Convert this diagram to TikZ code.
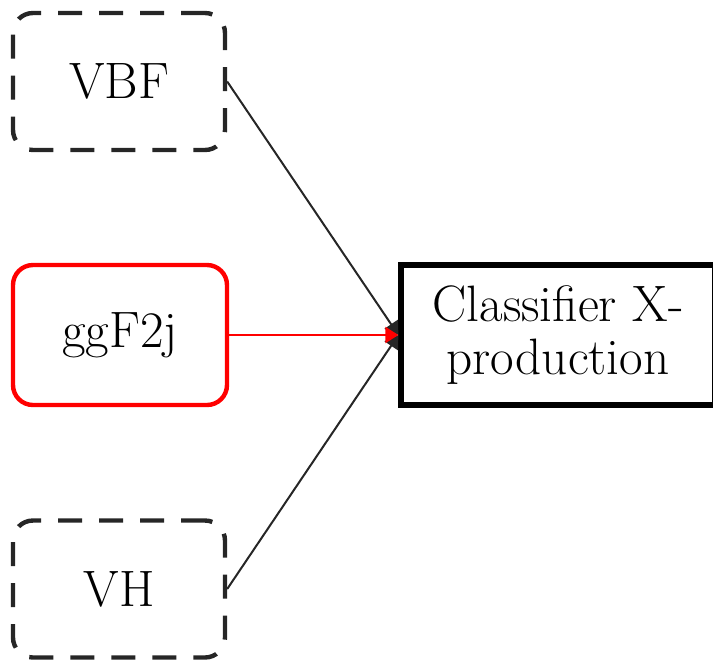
\documentclass[tikz,border=0pt]{standalone}
\usetikzlibrary{arrows.meta}
\definecolor{dk}{HTML}{262626}
\begin{document}
\begin{tikzpicture}[x=0.5pt,y=-0.5pt,
  every node/.style={font=\fontsize{25.6}{26.5}\selectfont, align=center, inner sep=0pt},
  optbox/.style={draw=dk, line width=2.2pt, dash pattern=on 12pt off 8.5pt, rounded corners=10pt, minimum width=106pt, minimum height=68.5pt},
  redbox/.style={draw=red, line width=2.2pt, rounded corners=10pt, minimum width=107pt, minimum height=70pt},
  clsbox/.style={draw=black, line width=2.6pt, minimum width=157pt, minimum height=70pt},
  conn/.style={line width=1pt, -{Triangle[length=6.5pt,width=8pt]}}]
\useasboundingbox (0,0) rectangle (713,661);
\node[optbox] (vbf) at (119,81.5) {VBF};
\node[redbox] (ggf) at (120,335) {ggF2j};
\node[optbox] (vh) at (119,589) {VH};
\node[clsbox] (cls) at (558,335) {Classifier X-\\production};
\draw[conn, dk] (vbf.east) -- (cls.west);
\draw[conn, dk] (vh.east) -- (cls.west);
\draw[conn, red] (ggf.east) -- (cls.west);
\end{tikzpicture}
\end{document}
